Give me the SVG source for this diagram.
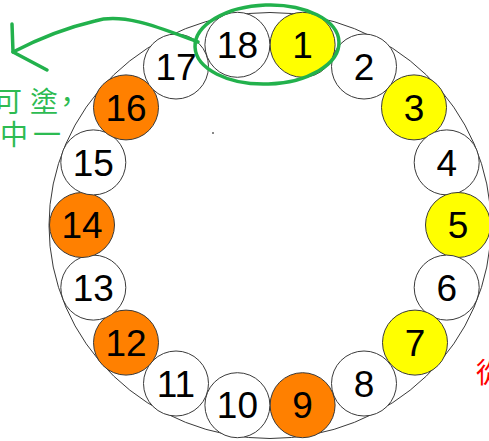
<svg xmlns="http://www.w3.org/2000/svg" width="489" height="441" viewBox="0 0 489 441">
<style>
.c{stroke:#3a3a3a;stroke-width:1;}
.w{fill:#ffffff;}
.y{fill:#ffff00;}
.o{fill:#ff8000;}
.n{font-family:"Liberation Sans",Arial,sans-serif;font-size:37px;fill:#000;text-anchor:middle;}
.g{fill:none;stroke:#22b14c;stroke-width:3.5;stroke-linecap:round;stroke-linejoin:round;}
.cj{font-family:"Noto Sans CJK TC","Noto Sans CJK SC",sans-serif;font-size:28px;}
</style>
<rect width="489" height="441" fill="#ffffff"/>
<ellipse id="ring" cx="270" cy="225.5" rx="221" ry="213" fill="none" stroke="#3a3a3a" stroke-width="1"/>
<rect x="212" y="132" width="2" height="2" fill="#888"/>
<g id="n1"><circle class="c y" cx="302.6" cy="44.8" r="32.5"/><text class="n" x="302.6" y="58">1</text></g>
<g id="n2"><circle class="c w" cx="364" cy="66.5" r="32.5"/><text class="n" x="364" y="79.7">2</text></g>
<g id="n3"><circle class="c y" cx="414" cy="107.4" r="32.5"/><text class="n" x="414" y="120.6">3</text></g>
<g id="n4"><circle class="c w" cx="446.7" cy="162.4" r="32.5"/><text class="n" x="446.7" y="175.6">4</text></g>
<g id="n5"><circle class="c y" cx="458" cy="225" r="32.5"/><text class="n" x="458" y="238.2">5</text></g>
<g id="n6"><circle class="c w" cx="446.7" cy="287.6" r="32.5"/><text class="n" x="446.7" y="300.8">6</text></g>
<g id="n7"><circle class="c y" cx="415" cy="342.6" r="32.5"/><text class="n" x="415" y="355.8">7</text></g>
<g id="n8"><circle class="c w" cx="364" cy="383.5" r="32.5"/><text class="n" x="364" y="396.7">8</text></g>
<g id="n9"><circle class="c o" cx="302.6" cy="405.2" r="32.5"/><text class="n" x="302.6" y="418.4">9</text></g>
<g id="n10"><circle class="c w" cx="237.4" cy="405.2" r="32.5"/><text class="n" x="237.4" y="418.4">10</text></g>
<g id="n11"><circle class="c w" cx="176" cy="383.5" r="32.5"/><text class="n" x="176" y="396.7">11</text></g>
<g id="n12"><circle class="c o" cx="126" cy="342.6" r="32.5"/><text class="n" x="126" y="355.8">12</text></g>
<g id="n13"><circle class="c w" cx="93.3" cy="287.6" r="32.5"/><text class="n" x="93.3" y="300.8">13</text></g>
<g id="n14"><circle class="c o" cx="82" cy="225" r="32.5"/><text class="n" x="82" y="238.2">14</text></g>
<g id="n15"><circle class="c w" cx="93.3" cy="162.4" r="32.5"/><text class="n" x="93.3" y="175.6">15</text></g>
<g id="n16"><circle class="c o" cx="126" cy="107.4" r="32.5"/><text class="n" x="126" y="120.6">16</text></g>
<g id="n17"><circle class="c w" cx="176" cy="66.5" r="32.5"/><text class="n" x="176" y="79.7">17</text></g>
<g id="n18"><circle class="c w" cx="237.4" cy="44.8" r="32.5"/><text class="n" x="237.4" y="58">18</text></g>
<g id="connectors">
<ellipse class="g" cx="267" cy="44.5" rx="72" ry="39.5" transform="rotate(-2 267 44.5)"/>
<path class="g" d="M198 42 C165 30 125 12 95 21 C65 28 40 38 13 52"/>
<path class="g" d="M12 24 L13 52 L47 70"/>
</g>
<g id="labels">
<text class="cj" fill="#2dbb52"><tspan x="-6" y="112">可</tspan><tspan x="30" y="112">塗</tspan><tspan x="53" y="112">，</tspan></text>
<text class="cj" fill="#2dbb52"><tspan x="0" y="145">中</tspan><tspan x="33" y="145">一</tspan></text>
<text class="cj" fill="#ff0000" x="476" y="383">從</text>
</g>
</svg>
